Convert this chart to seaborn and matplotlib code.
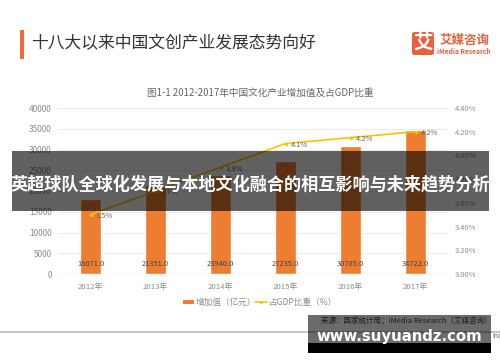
import matplotlib
matplotlib.use("Agg")
import matplotlib.pyplot as plt
from matplotlib.patches import Rectangle, FancyBboxPatch
from matplotlib.transforms import IdentityTransform
import seaborn as sns
import pandas as pd

years = ["2012年", "2013年", "2014年", "2015年", "2016年", "2017年"]
added_value = [18071.0, 21351.0, 23940.0, 27235.0, 30785.0, 34722.0]
gdp_share = [3.5, 3.7, 3.9, 4.1, 4.15, 4.2]
gdp_labels = ["3.5%", "3.7%", "3.9%", "4.1%", "4.2%", "4.2%"]
left_ticks = [0, 5000, 10000, 15000, 20000, 25000, 30000, 35000, 40000]
right_ticks = [3.0, 3.2, 3.4, 3.6, 3.8, 4.0, 4.2, 4.4]

sns.set_theme(style="white")
plt.rcParams["font.family"] = ["Noto Sans CJK SC", "DejaVu Sans"]

W, H = 500, 362
fig = plt.figure(figsize=(W / 100, H / 100), dpi=100, facecolor="white")

def fx(x): return x / W
def fy(y): return 1 - y / H
def box(x0, y0, x1, y1, **kw):
    kw.setdefault("edgecolor", "none")
    fig.add_artist(Rectangle((fx(x0), fy(y1)), (x1 - x0) / W, (y1 - y0) / H, transform=fig.transFigure, **kw))

ax = fig.add_axes([fx(58), fy(274), (448 - 58) / W, (274 - 108) / H])
df = pd.DataFrame({"year": years, "value": added_value, "share": gdp_share})
sns.barplot(data=df, x="year", y="value", color="#ED7D31", saturation=1, width=0.31, ax=ax, zorder=3)
ax.set_xlim(-0.5, 5.5)
ax.set_ylim(0, 40000)
ax.set_yticks(left_ticks)
ax.set_xlabel("")
ax.set_ylabel("")
ax.tick_params(axis="y", labelsize=6, colors="#8c8c8c", length=0, pad=4.5)
ax.tick_params(axis="x", labelsize=5.6, colors="#8c8c8c", length=0, pad=6.5)
ax.grid(axis="y", color="#ececec", lw=0.8, zorder=0)
ax.grid(axis="x", visible=False)
sns.despine(ax=ax, left=True, bottom=True, right=True, top=True)
ax.axhline(0, color="#e4e4e4", lw=1, zorder=2)
for i, v in enumerate(added_value):
    ax.text(i, 2300, f"{v:.1f}", ha="center", va="center", fontsize=5.4, color="#444444", zorder=5)

ax2 = ax.twinx()
sns.lineplot(data=df, x="year", y="share", color="#FFC000", lw=1.2, marker="o", markersize=2.5,
             markeredgewidth=0, ax=ax2, zorder=6)
ax2.set_ylim(3.0, 4.4)
ax2.set_yticks(right_ticks)
ax2.set_yticklabels([f"{t:.2f}%" for t in right_ticks])
ax2.set_xlabel("")
ax2.set_ylabel("")
ax2.grid(False)
ax2.tick_params(axis="y", labelsize=5.4, colors="#8c8c8c", length=0, pad=5)
sns.despine(ax=ax2, left=True, bottom=True, right=True, top=True)
for i, (s, t) in enumerate(zip(gdp_share, gdp_labels)):
    ax2.annotate(t, (i, s), xytext=(4, -1), textcoords="offset points", ha="left", va="center",
                 fontsize=5.4, color="#666666", zorder=7)

# Header
box(20, 30, 24, 59, facecolor="#EE6A3A")
fig.text(fx(31), fy(44), "十八大以来中国文创产业发展态势向好", fontsize=12.1, color="#333333", va="center", ha="left")
fig.text(fx(260.5), fy(93), "图1-1 2012-2017年中国文化产业增加值及占GDP比重", fontsize=6.95, color="#666666",
         va="center", ha="center", fontweight="medium")

# Logo
fig.add_artist(FancyBboxPatch((412, H - 55), 22, 23, boxstyle="round,pad=0,rounding_size=2.5",
                              transform=IdentityTransform(), facecolor="#E8603C", edgecolor="none"))
fig.text(fx(423), fy(43.5), "艾", fontsize=14, color="white", ha="center", va="center", fontweight="bold")
fig.text(fx(464.5), fy(40.5), "艾媒咨询", fontsize=9, color="#E8603C", ha="center", va="center", fontweight="bold")
fig.text(fx(464), fy(51), "iMedia Research", fontsize=4.8, color="#E8603C", ha="center", va="center", fontweight="bold")

# Legend
box(183, 300, 194, 304, facecolor="#ED7D31")
fig.text(fx(196), fy(302), "增加值（亿元）", fontsize=6.2, color="#8c8c8c", va="center", ha="left")
fig.add_artist(plt.Line2D([fx(255), fx(267)], [fy(302), fy(302)], color="#FFC000", lw=1.1,
                          transform=fig.transFigure))
fig.add_artist(plt.Line2D([fx(261)], [fy(302)], color="#FFC000", marker="o", markersize=2.2,
                          markeredgewidth=0, transform=fig.transFigure))
fig.text(fx(269), fy(302), "占GDP比重（%）", fontsize=6.2, color="#8c8c8c", va="center", ha="left")

# Footer
fig.add_artist(plt.Line2D([0, 1], [fy(332), fy(332)], color="#c6c6c6", lw=1.4, transform=fig.transFigure))
fig.text(fx(321), fy(321), "来源：国家统计局；iMedia Research（艾媒咨询）", fontsize=5.45, color="#444444", va="center", ha="left")
fig.text(fx(492), fy(336.5), "Inc", fontsize=4.6, color="#666666", va="center", ha="left")

# Overlay banner
box(12, 151, 489, 211, facecolor="#000000", alpha=0.62, zorder=20)
fig.text(fx(250.5), fy(184.5), "英超球队全球化发展与本地文化融合的相互影响与未来趋势分析", fontsize=12.35, color="white",
         va="center", ha="center", fontweight="bold", zorder=21)

# Watermark box
box(308, 315, 491, 343, facecolor="#000000", alpha=0.58, zorder=20)
box(308, 343, 491, 353, facecolor="#000000", zorder=20)
fig.text(fx(399), fy(337), "www.suyuandz.com", fontsize=10.7, color="white", va="center", ha="center",
         fontweight="bold", family="DejaVu Sans", zorder=21)

fig.savefig("out.png", dpi=100)
